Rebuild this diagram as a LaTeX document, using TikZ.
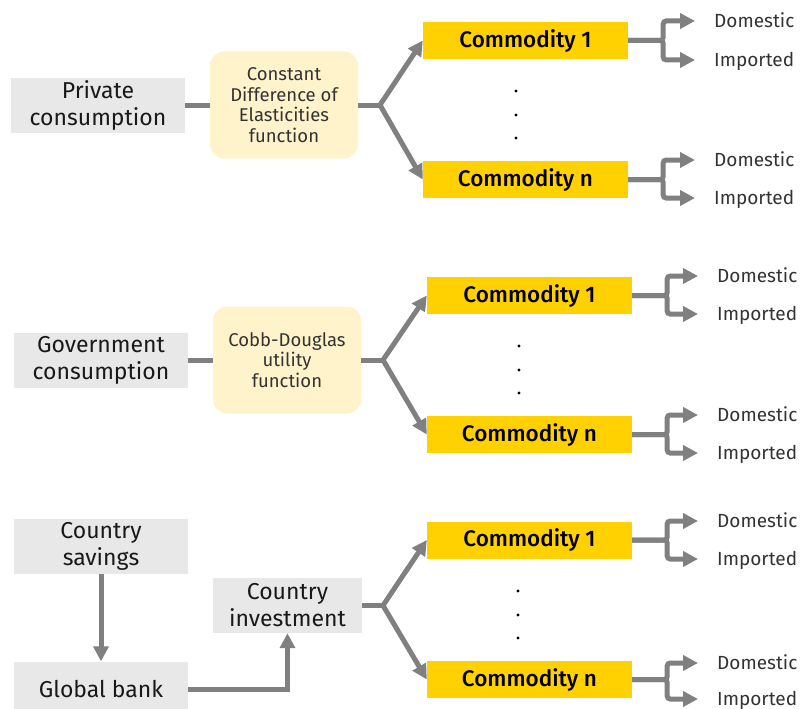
\documentclass[tikz,border=0pt]{standalone}
\usepackage{fontspec}
\setmainfont{Fira Sans}
\newfontfamily\medfont{Fira Sans Medium}
\usetikzlibrary{arrows.meta}

\definecolor{boxgray}{HTML}{E8E8E8}
\definecolor{funcyellow}{HTML}{FFF3CB}
\definecolor{comyellow}{HTML}{FFD100}
\definecolor{linegray}{HTML}{808080}

\tikzset{
  sector/.style={fill=boxgray, minimum width=174pt, minimum height=55pt, inner sep=0pt,
    align=center, font=\fontsize{23}{27}\selectfont, text=black!90},
  func/.style={fill=funcyellow, rounded corners=14pt, minimum width=148pt, minimum height=107pt,
    inner sep=0pt, align=center, font=\fontsize{18.5}{20.7}\selectfont, text=black!80},
  commodity/.style={fill=comyellow, minimum width=205pt, minimum height=37pt, inner sep=0pt,
    font=\medfont\fontsize{22.5}{22.5}\selectfont, text=black},
  origin/.style={anchor=west, inner sep=0pt, text height=13pt, text depth=0pt,
    font=\fontsize{19}{19}\selectfont, text=black!80},
  link/.style={draw=linegray, line width=5pt},
  flow/.style={link, -{Triangle[length=15pt,width=15pt]}},
  split/.style={flow, rounded corners=3pt, shorten >=19pt},
}

\begin{document}
\begin{tikzpicture}[x=1pt, y=-1pt]
  \useasboundingbox (0,0) rectangle (800,709);
  % ---- Private consumption ----
  \node[sector] (pc) at (98,105) {Private\\consumption};
  \node[func] (cde) at (284,105) {Constant\\Difference of\\Elasticities\\function};
  \node[commodity] (pcom1) at (525.5,40.5) {Commodity 1};
  \node[commodity] (pcomn) at (525.5,179.5) {Commodity n};
  \node[origin] (pd1) at (714,21) {Domestic};
  \node[origin] (pi1) at (714,60) {Imported};
  \node[origin] (pdn) at (714,160) {Domestic};
  \node[origin] (pin) at (714,198) {Imported};
  \coordinate (pb) at (380,105);
  \draw[link] (pc.east) -- (cde.west);
  \draw[link] (cde.east) -- (pb);
  \draw[flow] (pb) -- (pcom1.west);
  \draw[flow] (pb) -- (pcomn.west);
  \draw[split] (pcom1.east) -- ++(35,0) |- (pd1.west);
  \draw[split] (pcom1.east) -- ++(35,0) |- (pi1.west);
  \draw[split] (pcomn.east) -- ++(35,0) |- (pdn.west);
  \draw[split] (pcomn.east) -- ++(35,0) |- (pin.west);
  \foreach \y in {91,115,138}
    \fill (516,\y) circle (1.6);
  % ---- Government consumption ----
  \node[sector] (gc) at (101,360) {Government\\consumption};
  \node[func] (cd) at (287,360) {Cobb-Douglas\\utility\\function};
  \node[commodity] (gcom1) at (529.5,295.5) {Commodity 1};
  \node[commodity] (gcomn) at (529.5,434.5) {Commodity n};
  \node[origin] (gd1) at (717,276) {Domestic};
  \node[origin] (gi1) at (717,314) {Imported};
  \node[origin] (gdn) at (717,415) {Domestic};
  \node[origin] (gin) at (717,453) {Imported};
  \coordinate (gb) at (383,360);
  \draw[link] (gc.east) -- (cd.west);
  \draw[link] (cd.east) -- (gb);
  \draw[flow] (gb) -- (gcom1.west);
  \draw[flow] (gb) -- (gcomn.west);
  \draw[split] (gcom1.east) -- ++(35,0) |- (gd1.west);
  \draw[split] (gcom1.east) -- ++(35,0) |- (gi1.west);
  \draw[split] (gcomn.east) -- ++(35,0) |- (gdn.west);
  \draw[split] (gcomn.east) -- ++(35,0) |- (gin.west);
  \foreach \y in {346,370,393}
    \fill (519,\y) circle (1.6);
  % ---- Investment ----
  \node[sector] (cs) at (101,546.5) {Country\\savings};
  \node[sector] (bank) at (101,689) {Global bank};
  \node[sector, minimum width=149pt] (ci) at (287.5,605.5) {Country\\investment};
  \node[commodity] (icom1) at (529.5,540) {Commodity 1};
  \node[commodity] (icomn) at (529.5,679.5) {Commodity n};
  \node[origin] (id1) at (717,521) {Domestic};
  \node[origin] (ii1) at (717,559) {Imported};
  \node[origin] (idn) at (717,663) {Domestic};
  \node[origin] (iin) at (717,699) {Imported};
  \coordinate (ib) at (383,605.5);
  \draw[flow] (cs.south) -- (bank.north);
  \draw[flow] (bank.east) -| (ci.south);
  \draw[link] (ci.east) -- (ib);
  \draw[flow] (ib) -- (icom1.west);
  \draw[flow] (ib) -- (icomn.west);
  \draw[split] (icom1.east) -- ++(35,0) |- (id1.west);
  \draw[split] (icom1.east) -- ++(35,0) |- (ii1.west);
  \draw[split] (icomn.east) -- ++(35,0) |- (idn.west);
  \draw[split] (icomn.east) -- ++(35,0) |- (iin.west);
  \foreach \y in {591,615,638}
    \fill (518,\y) circle (1.6);
\end{tikzpicture}
\end{document}
